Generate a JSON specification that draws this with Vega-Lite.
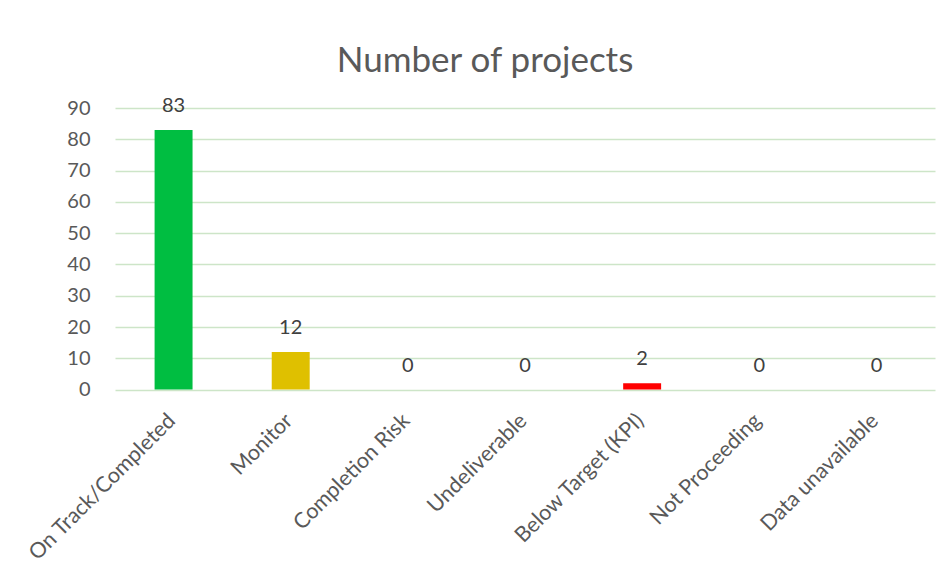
{
  "$schema": "https://vega.github.io/schema/vega-lite/v6.json",
  "width": 820,
  "height": 281.6,
  "autosize": {"type": "none"},
  "padding": {"left": 115, "top": 108, "right": 16, "bottom": 190.4},
  "background": "white",
  "title": {
    "text": "Number of projects",
    "font": "Lato",
    "fontSize": 35,
    "fontWeight": "normal",
    "color": "#595959",
    "anchor": "middle",
    "dx": -40,
    "dy": 35,
    "baseline": "alphabetic",
    "offset": 24
  },
  "config": {
    "view": {"stroke": null},
    "font": "Lato"
  },
  "data": {
    "values": [
      {"status": "On Track/Completed", "count": 83},
      {"status": "Monitor", "count": 12},
      {"status": "Completion Risk", "count": 0},
      {"status": "Undeliverable", "count": 0},
      {"status": "Below Target (KPI)", "count": 2},
      {"status": "Not Proceeding", "count": 0},
      {"status": "Data unavailable", "count": 0}
    ]
  },
  "encoding": {
    "x": {
      "field": "status",
      "type": "nominal",
      "sort": null,
      "scale": {"paddingInner": 0.676, "paddingOuter": 0.338},
      "axis": {
        "title": null,
        "labelAngle": -45,
        "labelFontSize": 21.5,
        "labelColor": "#595959",
        "labelFont": "Lato",
        "labelLimit": 400,
        "labelBaseline": "top",
        "labelAlign": "right",
        "labelOffset": -9,
        "ticks": false,
        "domain": false,
        "labelPadding": 20
      }
    },
    "y": {
      "field": "count",
      "type": "quantitative",
      "scale": {"domain": [0, 90], "nice": false},
      "axis": {
        "title": null,
        "values": [0, 10, 20, 30, 40, 50, 60, 70, 80, 90],
        "labelFontSize": 20,
        "labelColor": "#595959",
        "labelFont": "Lato",
        "ticks": false,
        "domain": false,
        "labelPadding": 25,
        "gridColor": "#CDE5C8",
        "gridWidth": 1.5
      }
    }
  },
  "layer": [
    {
      "mark": {"type": "bar"},
      "encoding": {
        "color": {
          "field": "status",
          "type": "nominal",
          "legend": null,
          "scale": {
            "domain": ["On Track/Completed", "Monitor", "Completion Risk", "Undeliverable", "Below Target (KPI)", "Not Proceeding", "Data unavailable"],
            "range": ["#00BE41", "#DFC000", "#FFC7CE", "#7F7F7F", "#FF0000", "#A5A5A5", "#D9D9D9"]
          }
        }
      }
    },
    {
      "mark": {"type": "text", "baseline": "alphabetic", "dy": -18, "fontSize": 20, "font": "Lato", "color": "#404040"},
      "encoding": {
        "text": {"field": "count", "type": "quantitative"}
      }
    }
  ]
}
